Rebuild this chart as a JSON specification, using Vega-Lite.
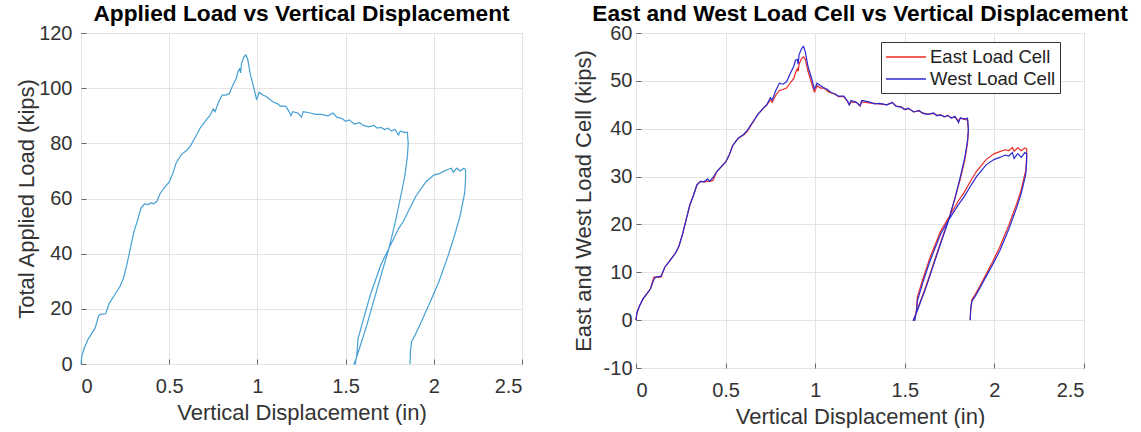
{
  "$schema": "https://vega.github.io/schema/vega-lite/v6.json",
  "background": "white",
  "padding": {"left": 15, "top": 2, "right": 0, "bottom": 0},
  "bounds": "flush",
  "spacing": 114,
  "datasets": {
    "total": [
      {"step": 1, "disp": 0, "load": 0}, {"step": 2, "disp": 0.005, "load": 3}, {"step": 3, "disp": 0.02, "load": 6},
      {"step": 4, "disp": 0.04, "load": 9}, {"step": 5, "disp": 0.06, "load": 11}, {"step": 6, "disp": 0.08, "load": 13},
      {"step": 7, "disp": 0.1, "load": 17.5}, {"step": 8, "disp": 0.11, "load": 18}, {"step": 9, "disp": 0.14, "load": 18.2},
      {"step": 10, "disp": 0.16, "load": 22}, {"step": 11, "disp": 0.19, "load": 25}, {"step": 12, "disp": 0.22, "load": 28},
      {"step": 13, "disp": 0.24, "load": 31}, {"step": 14, "disp": 0.26, "load": 36}, {"step": 15, "disp": 0.28, "load": 42},
      {"step": 16, "disp": 0.3, "load": 48}, {"step": 17, "disp": 0.32, "load": 52}, {"step": 18, "disp": 0.34, "load": 56.5},
      {"step": 19, "disp": 0.36, "load": 58}, {"step": 20, "disp": 0.38, "load": 57.8}, {"step": 21, "disp": 0.4, "load": 58.5},
      {"step": 22, "disp": 0.41, "load": 58}, {"step": 23, "disp": 0.43, "load": 59}, {"step": 24, "disp": 0.45, "load": 62},
      {"step": 25, "disp": 0.48, "load": 64.5}, {"step": 26, "disp": 0.5, "load": 66}, {"step": 27, "disp": 0.52, "load": 69},
      {"step": 28, "disp": 0.54, "load": 73}, {"step": 29, "disp": 0.57, "load": 76}, {"step": 30, "disp": 0.6, "load": 77.5},
      {"step": 31, "disp": 0.62, "load": 79}, {"step": 32, "disp": 0.65, "load": 82.5}, {"step": 33, "disp": 0.68, "load": 86},
      {"step": 34, "disp": 0.71, "load": 88.5}, {"step": 35, "disp": 0.73, "load": 90}, {"step": 36, "disp": 0.75, "load": 92.5},
      {"step": 37, "disp": 0.76, "load": 91.5}, {"step": 38, "disp": 0.78, "load": 95}, {"step": 39, "disp": 0.8, "load": 97.5},
      {"step": 40, "disp": 0.82, "load": 97.5}, {"step": 41, "disp": 0.84, "load": 98}, {"step": 42, "disp": 0.86, "load": 101},
      {"step": 43, "disp": 0.88, "load": 103.5}, {"step": 44, "disp": 0.89, "load": 106}, {"step": 45, "disp": 0.9, "load": 107},
      {"step": 46, "disp": 0.905, "load": 105.5}, {"step": 47, "disp": 0.91, "load": 109}, {"step": 48, "disp": 0.925, "load": 111.5},
      {"step": 49, "disp": 0.935, "load": 112}, {"step": 50, "disp": 0.945, "load": 110.5}, {"step": 51, "disp": 0.96, "load": 105},
      {"step": 52, "disp": 0.98, "load": 100}, {"step": 53, "disp": 0.995, "load": 96}, {"step": 54, "disp": 1.0, "load": 96.5},
      {"step": 55, "disp": 1.01, "load": 98.5}, {"step": 56, "disp": 1.03, "load": 97.5}, {"step": 57, "disp": 1.05, "load": 97},
      {"step": 58, "disp": 1.07, "load": 96}, {"step": 59, "disp": 1.09, "load": 95}, {"step": 60, "disp": 1.11, "load": 94.5},
      {"step": 61, "disp": 1.13, "load": 93.5}, {"step": 62, "disp": 1.16, "load": 93.5}, {"step": 63, "disp": 1.18, "load": 91.5},
      {"step": 64, "disp": 1.19, "load": 90}, {"step": 65, "disp": 1.2, "load": 91.5}, {"step": 66, "disp": 1.23, "load": 91},
      {"step": 67, "disp": 1.25, "load": 89.5}, {"step": 68, "disp": 1.26, "load": 91.5}, {"step": 69, "disp": 1.3, "load": 91},
      {"step": 70, "disp": 1.33, "load": 90.5}, {"step": 71, "disp": 1.36, "load": 90.5}, {"step": 72, "disp": 1.4, "load": 90},
      {"step": 73, "disp": 1.43, "load": 91}, {"step": 74, "disp": 1.45, "load": 89.5}, {"step": 75, "disp": 1.48, "load": 89},
      {"step": 76, "disp": 1.5, "load": 88}, {"step": 77, "disp": 1.52, "load": 88.5}, {"step": 78, "disp": 1.55, "load": 87},
      {"step": 79, "disp": 1.58, "load": 87.5}, {"step": 80, "disp": 1.6, "load": 86.5}, {"step": 81, "disp": 1.63, "load": 86},
      {"step": 82, "disp": 1.66, "load": 86.5}, {"step": 83, "disp": 1.68, "load": 85.5}, {"step": 84, "disp": 1.7, "load": 85.8},
      {"step": 85, "disp": 1.72, "load": 85}, {"step": 86, "disp": 1.74, "load": 85.5}, {"step": 87, "disp": 1.76, "load": 84.5},
      {"step": 88, "disp": 1.78, "load": 85}, {"step": 89, "disp": 1.8, "load": 83}, {"step": 90, "disp": 1.81, "load": 84.5},
      {"step": 91, "disp": 1.83, "load": 84}, {"step": 92, "disp": 1.85, "load": 84},
      {"step": 93, "disp": 1.855, "load": 80}, {"step": 94, "disp": 1.85, "load": 75}, {"step": 95, "disp": 1.835, "load": 68},
      {"step": 96, "disp": 1.81, "load": 60}, {"step": 97, "disp": 1.78, "load": 51}, {"step": 98, "disp": 1.746, "load": 42},
      {"step": 99, "disp": 1.7, "load": 32}, {"step": 100, "disp": 1.66, "load": 23}, {"step": 101, "disp": 1.62, "load": 14},
      {"step": 102, "disp": 1.58, "load": 6}, {"step": 103, "disp": 1.56, "load": 2}, {"step": 104, "disp": 1.548, "load": 0},
      {"step": 105, "disp": 1.555, "load": 0}, {"step": 106, "disp": 1.565, "load": 4}, {"step": 107, "disp": 1.57, "load": 9},
      {"step": 108, "disp": 1.6, "load": 16}, {"step": 109, "disp": 1.64, "load": 25}, {"step": 110, "disp": 1.7, "load": 36},
      {"step": 111, "disp": 1.746, "load": 42}, {"step": 112, "disp": 1.8, "load": 49}, {"step": 113, "disp": 1.83, "load": 52},
      {"step": 114, "disp": 1.86, "load": 56}, {"step": 115, "disp": 1.9, "load": 61}, {"step": 116, "disp": 1.955, "load": 66},
      {"step": 117, "disp": 2.0, "load": 68.5}, {"step": 118, "disp": 2.03, "load": 69}, {"step": 119, "disp": 2.06, "load": 70},
      {"step": 120, "disp": 2.08, "load": 70.5}, {"step": 121, "disp": 2.1, "load": 71}, {"step": 122, "disp": 2.11, "load": 69.5},
      {"step": 123, "disp": 2.13, "load": 71}, {"step": 124, "disp": 2.15, "load": 70}, {"step": 125, "disp": 2.17, "load": 71},
      {"step": 126, "disp": 2.18, "load": 70.5}, {"step": 127, "disp": 2.18, "load": 67}, {"step": 128, "disp": 2.175, "load": 62},
      {"step": 129, "disp": 2.15, "load": 54}, {"step": 130, "disp": 2.124, "load": 48}, {"step": 131, "disp": 2.08, "load": 39},
      {"step": 132, "disp": 2.03, "load": 30}, {"step": 133, "disp": 1.99, "load": 24}, {"step": 134, "disp": 1.955, "load": 19},
      {"step": 135, "disp": 1.92, "load": 14}, {"step": 136, "disp": 1.89, "load": 10}, {"step": 137, "disp": 1.875, "load": 8.3},
      {"step": 138, "disp": 1.868, "load": 5}, {"step": 139, "disp": 1.865, "load": 0}
    ],
    "cells": [
      {"cell": "East Load Cell", "step": 1, "disp": 0, "load": 0}, {"cell": "East Load Cell", "step": 2, "disp": 0.005, "load": 1.5},
      {"cell": "East Load Cell", "step": 3, "disp": 0.02, "load": 3}, {"cell": "East Load Cell", "step": 4, "disp": 0.04, "load": 4.5},
      {"cell": "East Load Cell", "step": 5, "disp": 0.06, "load": 5.5}, {"cell": "East Load Cell", "step": 6, "disp": 0.08, "load": 6.5},
      {"cell": "East Load Cell", "step": 7, "disp": 0.1, "load": 9}, {"cell": "East Load Cell", "step": 8, "disp": 0.11, "load": 9},
      {"cell": "East Load Cell", "step": 9, "disp": 0.14, "load": 9}, {"cell": "East Load Cell", "step": 10, "disp": 0.16, "load": 11},
      {"cell": "East Load Cell", "step": 11, "disp": 0.19, "load": 12.5}, {"cell": "East Load Cell", "step": 12, "disp": 0.22, "load": 14},
      {"cell": "East Load Cell", "step": 13, "disp": 0.24, "load": 15.5}, {"cell": "East Load Cell", "step": 14, "disp": 0.26, "load": 18},
      {"cell": "East Load Cell", "step": 15, "disp": 0.28, "load": 21}, {"cell": "East Load Cell", "step": 16, "disp": 0.3, "load": 24},
      {"cell": "East Load Cell", "step": 17, "disp": 0.32, "load": 26}, {"cell": "East Load Cell", "step": 18, "disp": 0.34, "load": 28.2},
      {"cell": "East Load Cell", "step": 19, "disp": 0.36, "load": 29}, {"cell": "East Load Cell", "step": 20, "disp": 0.38, "load": 28.9},
      {"cell": "East Load Cell", "step": 21, "disp": 0.4, "load": 29}, {"cell": "East Load Cell", "step": 22, "disp": 0.41, "load": 29},
      {"cell": "East Load Cell", "step": 23, "disp": 0.43, "load": 29.2}, {"cell": "East Load Cell", "step": 24, "disp": 0.45, "load": 31},
      {"cell": "East Load Cell", "step": 25, "disp": 0.48, "load": 32.2}, {"cell": "East Load Cell", "step": 26, "disp": 0.5, "load": 33},
      {"cell": "East Load Cell", "step": 27, "disp": 0.52, "load": 34.5}, {"cell": "East Load Cell", "step": 28, "disp": 0.54, "load": 36.5},
      {"cell": "East Load Cell", "step": 29, "disp": 0.57, "load": 38}, {"cell": "East Load Cell", "step": 30, "disp": 0.6, "load": 38.7},
      {"cell": "East Load Cell", "step": 31, "disp": 0.62, "load": 39.4}, {"cell": "East Load Cell", "step": 32, "disp": 0.65, "load": 41.2},
      {"cell": "East Load Cell", "step": 33, "disp": 0.68, "load": 43}, {"cell": "East Load Cell", "step": 34, "disp": 0.71, "load": 44.2},
      {"cell": "East Load Cell", "step": 35, "disp": 0.73, "load": 45}, {"cell": "East Load Cell", "step": 36, "disp": 0.75, "load": 46},
      {"cell": "East Load Cell", "step": 37, "disp": 0.76, "load": 45.5}, {"cell": "East Load Cell", "step": 38, "disp": 0.78, "load": 47},
      {"cell": "East Load Cell", "step": 39, "disp": 0.8, "load": 48}, {"cell": "East Load Cell", "step": 40, "disp": 0.82, "load": 48.2},
      {"cell": "East Load Cell", "step": 41, "disp": 0.84, "load": 48.5}, {"cell": "East Load Cell", "step": 42, "disp": 0.86, "load": 49.5},
      {"cell": "East Load Cell", "step": 43, "disp": 0.88, "load": 50.5}, {"cell": "East Load Cell", "step": 44, "disp": 0.89, "load": 51.7},
      {"cell": "East Load Cell", "step": 45, "disp": 0.9, "load": 52.5}, {"cell": "East Load Cell", "step": 46, "disp": 0.905, "load": 52},
      {"cell": "East Load Cell", "step": 47, "disp": 0.91, "load": 53.5}, {"cell": "East Load Cell", "step": 48, "disp": 0.925, "load": 54.7},
      {"cell": "East Load Cell", "step": 49, "disp": 0.935, "load": 55}, {"cell": "East Load Cell", "step": 50, "disp": 0.945, "load": 54.5},
      {"cell": "East Load Cell", "step": 51, "disp": 0.96, "load": 52}, {"cell": "East Load Cell", "step": 52, "disp": 0.98, "load": 49.5},
      {"cell": "East Load Cell", "step": 53, "disp": 0.995, "load": 47.7}, {"cell": "East Load Cell", "step": 54, "disp": 1.0, "load": 47.9},
      {"cell": "East Load Cell", "step": 55, "disp": 1.01, "load": 49}, {"cell": "East Load Cell", "step": 56, "disp": 1.03, "load": 48.5},
      {"cell": "East Load Cell", "step": 57, "disp": 1.05, "load": 48.5}, {"cell": "East Load Cell", "step": 58, "disp": 1.07, "load": 47.8},
      {"cell": "East Load Cell", "step": 59, "disp": 1.09, "load": 47.5}, {"cell": "East Load Cell", "step": 60, "disp": 1.11, "load": 47.2},
      {"cell": "East Load Cell", "step": 61, "disp": 1.13, "load": 46.7}, {"cell": "East Load Cell", "step": 62, "disp": 1.16, "load": 46.7},
      {"cell": "East Load Cell", "step": 63, "disp": 1.18, "load": 45.7}, {"cell": "East Load Cell", "step": 64, "disp": 1.19, "load": 45},
      {"cell": "East Load Cell", "step": 65, "disp": 1.2, "load": 45.6}, {"cell": "East Load Cell", "step": 66, "disp": 1.23, "load": 45.5},
      {"cell": "East Load Cell", "step": 67, "disp": 1.25, "load": 44.7}, {"cell": "East Load Cell", "step": 68, "disp": 1.26, "load": 45.6},
      {"cell": "East Load Cell", "step": 69, "disp": 1.3, "load": 45.4}, {"cell": "East Load Cell", "step": 70, "disp": 1.33, "load": 45.3},
      {"cell": "East Load Cell", "step": 71, "disp": 1.36, "load": 45.2}, {"cell": "East Load Cell", "step": 72, "disp": 1.4, "load": 45},
      {"cell": "East Load Cell", "step": 73, "disp": 1.43, "load": 45.5}, {"cell": "East Load Cell", "step": 74, "disp": 1.45, "load": 44.8},
      {"cell": "East Load Cell", "step": 75, "disp": 1.48, "load": 44.5}, {"cell": "East Load Cell", "step": 76, "disp": 1.5, "load": 44},
      {"cell": "East Load Cell", "step": 77, "disp": 1.52, "load": 44.2}, {"cell": "East Load Cell", "step": 78, "disp": 1.55, "load": 43.5},
      {"cell": "East Load Cell", "step": 79, "disp": 1.58, "load": 43.7}, {"cell": "East Load Cell", "step": 80, "disp": 1.6, "load": 43.3},
      {"cell": "East Load Cell", "step": 81, "disp": 1.63, "load": 43}, {"cell": "East Load Cell", "step": 82, "disp": 1.66, "load": 43.2},
      {"cell": "East Load Cell", "step": 83, "disp": 1.68, "load": 42.8}, {"cell": "East Load Cell", "step": 84, "disp": 1.7, "load": 42.9},
      {"cell": "East Load Cell", "step": 85, "disp": 1.72, "load": 42.5}, {"cell": "East Load Cell", "step": 86, "disp": 1.74, "load": 42.7},
      {"cell": "East Load Cell", "step": 87, "disp": 1.76, "load": 42.3}, {"cell": "East Load Cell", "step": 88, "disp": 1.78, "load": 42.4},
      {"cell": "East Load Cell", "step": 89, "disp": 1.8, "load": 41.7}, {"cell": "East Load Cell", "step": 90, "disp": 1.81, "load": 42.2},
      {"cell": "East Load Cell", "step": 91, "disp": 1.83, "load": 42}, {"cell": "East Load Cell", "step": 92, "disp": 1.85, "load": 41.8},
      {"cell": "East Load Cell", "step": 93, "disp": 1.855, "load": 39.5}, {"cell": "East Load Cell", "step": 94, "disp": 1.85, "load": 37},
      {"cell": "East Load Cell", "step": 95, "disp": 1.835, "load": 33.5}, {"cell": "East Load Cell", "step": 96, "disp": 1.81, "load": 29.5},
      {"cell": "East Load Cell", "step": 97, "disp": 1.78, "load": 25.5}, {"cell": "East Load Cell", "step": 98, "disp": 1.746, "load": 21.2},
      {"cell": "East Load Cell", "step": 99, "disp": 1.7, "load": 16.3}, {"cell": "East Load Cell", "step": 100, "disp": 1.66, "load": 11.8},
      {"cell": "East Load Cell", "step": 101, "disp": 1.62, "load": 7.3}, {"cell": "East Load Cell", "step": 102, "disp": 1.58, "load": 3.2},
      {"cell": "East Load Cell", "step": 103, "disp": 1.56, "load": 1.2}, {"cell": "East Load Cell", "step": 104, "disp": 1.548, "load": 0},
      {"cell": "East Load Cell", "step": 105, "disp": 1.555, "load": 0}, {"cell": "East Load Cell", "step": 106, "disp": 1.565, "load": 2.2},
      {"cell": "East Load Cell", "step": 107, "disp": 1.57, "load": 4.8}, {"cell": "East Load Cell", "step": 108, "disp": 1.6, "load": 8.5},
      {"cell": "East Load Cell", "step": 109, "disp": 1.64, "load": 13}, {"cell": "East Load Cell", "step": 110, "disp": 1.7, "load": 18.6},
      {"cell": "East Load Cell", "step": 111, "disp": 1.746, "load": 21.5}, {"cell": "East Load Cell", "step": 112, "disp": 1.8, "load": 25},
      {"cell": "East Load Cell", "step": 113, "disp": 1.83, "load": 26.6}, {"cell": "East Load Cell", "step": 114, "disp": 1.86, "load": 28.6},
      {"cell": "East Load Cell", "step": 115, "disp": 1.9, "load": 31.1}, {"cell": "East Load Cell", "step": 116, "disp": 1.955, "load": 33.6},
      {"cell": "East Load Cell", "step": 117, "disp": 2.0, "load": 34.8}, {"cell": "East Load Cell", "step": 118, "disp": 2.03, "load": 35.2},
      {"cell": "East Load Cell", "step": 119, "disp": 2.06, "load": 35.6}, {"cell": "East Load Cell", "step": 120, "disp": 2.08, "load": 35.4},
      {"cell": "East Load Cell", "step": 121, "disp": 2.1, "load": 36.1}, {"cell": "East Load Cell", "step": 122, "disp": 2.11, "load": 35.3},
      {"cell": "East Load Cell", "step": 123, "disp": 2.13, "load": 36}, {"cell": "East Load Cell", "step": 124, "disp": 2.15, "load": 35.4},
      {"cell": "East Load Cell", "step": 125, "disp": 2.17, "load": 36}, {"cell": "East Load Cell", "step": 126, "disp": 2.18, "load": 35.8},
      {"cell": "East Load Cell", "step": 127, "disp": 2.18, "load": 34}, {"cell": "East Load Cell", "step": 128, "disp": 2.175, "load": 31.3},
      {"cell": "East Load Cell", "step": 129, "disp": 2.15, "load": 27.3}, {"cell": "East Load Cell", "step": 130, "disp": 2.124, "load": 24.3},
      {"cell": "East Load Cell", "step": 131, "disp": 2.08, "load": 19.8}, {"cell": "East Load Cell", "step": 132, "disp": 2.03, "load": 15.3},
      {"cell": "East Load Cell", "step": 133, "disp": 1.99, "load": 12.2}, {"cell": "East Load Cell", "step": 134, "disp": 1.955, "load": 9.7},
      {"cell": "East Load Cell", "step": 135, "disp": 1.92, "load": 7.2}, {"cell": "East Load Cell", "step": 136, "disp": 1.89, "load": 5.2},
      {"cell": "East Load Cell", "step": 137, "disp": 1.875, "load": 4.3}, {"cell": "East Load Cell", "step": 138, "disp": 1.868, "load": 2.6},
      {"cell": "East Load Cell", "step": 139, "disp": 1.865, "load": 0},

      {"cell": "West Load Cell", "step": 1, "disp": 0, "load": 0}, {"cell": "West Load Cell", "step": 2, "disp": 0.005, "load": 1.5},
      {"cell": "West Load Cell", "step": 3, "disp": 0.02, "load": 3}, {"cell": "West Load Cell", "step": 4, "disp": 0.04, "load": 4.5},
      {"cell": "West Load Cell", "step": 5, "disp": 0.06, "load": 5.5}, {"cell": "West Load Cell", "step": 6, "disp": 0.08, "load": 6.5},
      {"cell": "West Load Cell", "step": 7, "disp": 0.1, "load": 8.5}, {"cell": "West Load Cell", "step": 8, "disp": 0.11, "load": 9},
      {"cell": "West Load Cell", "step": 9, "disp": 0.14, "load": 9.2}, {"cell": "West Load Cell", "step": 10, "disp": 0.16, "load": 11},
      {"cell": "West Load Cell", "step": 11, "disp": 0.19, "load": 12.5}, {"cell": "West Load Cell", "step": 12, "disp": 0.22, "load": 14},
      {"cell": "West Load Cell", "step": 13, "disp": 0.24, "load": 15.5}, {"cell": "West Load Cell", "step": 14, "disp": 0.26, "load": 18},
      {"cell": "West Load Cell", "step": 15, "disp": 0.28, "load": 21}, {"cell": "West Load Cell", "step": 16, "disp": 0.3, "load": 24},
      {"cell": "West Load Cell", "step": 17, "disp": 0.32, "load": 26}, {"cell": "West Load Cell", "step": 18, "disp": 0.34, "load": 28.3},
      {"cell": "West Load Cell", "step": 19, "disp": 0.36, "load": 29}, {"cell": "West Load Cell", "step": 20, "disp": 0.38, "load": 28.9},
      {"cell": "West Load Cell", "step": 21, "disp": 0.4, "load": 29.5}, {"cell": "West Load Cell", "step": 22, "disp": 0.41, "load": 29},
      {"cell": "West Load Cell", "step": 23, "disp": 0.43, "load": 29.8}, {"cell": "West Load Cell", "step": 24, "disp": 0.45, "load": 31},
      {"cell": "West Load Cell", "step": 25, "disp": 0.48, "load": 32.3}, {"cell": "West Load Cell", "step": 26, "disp": 0.5, "load": 33},
      {"cell": "West Load Cell", "step": 27, "disp": 0.52, "load": 34.5}, {"cell": "West Load Cell", "step": 28, "disp": 0.54, "load": 36.5},
      {"cell": "West Load Cell", "step": 29, "disp": 0.57, "load": 38}, {"cell": "West Load Cell", "step": 30, "disp": 0.6, "load": 38.8},
      {"cell": "West Load Cell", "step": 31, "disp": 0.62, "load": 39.6}, {"cell": "West Load Cell", "step": 32, "disp": 0.65, "load": 41.3},
      {"cell": "West Load Cell", "step": 33, "disp": 0.68, "load": 43}, {"cell": "West Load Cell", "step": 34, "disp": 0.71, "load": 44.3},
      {"cell": "West Load Cell", "step": 35, "disp": 0.73, "load": 45}, {"cell": "West Load Cell", "step": 36, "disp": 0.75, "load": 46.5},
      {"cell": "West Load Cell", "step": 37, "disp": 0.76, "load": 46}, {"cell": "West Load Cell", "step": 38, "disp": 0.78, "load": 48},
      {"cell": "West Load Cell", "step": 39, "disp": 0.8, "load": 49.5}, {"cell": "West Load Cell", "step": 40, "disp": 0.82, "load": 49.3},
      {"cell": "West Load Cell", "step": 41, "disp": 0.84, "load": 49.8}, {"cell": "West Load Cell", "step": 42, "disp": 0.86, "load": 51.5},
      {"cell": "West Load Cell", "step": 43, "disp": 0.88, "load": 53}, {"cell": "West Load Cell", "step": 44, "disp": 0.89, "load": 54.3},
      {"cell": "West Load Cell", "step": 45, "disp": 0.9, "load": 54.5}, {"cell": "West Load Cell", "step": 46, "disp": 0.905, "load": 53.5},
      {"cell": "West Load Cell", "step": 47, "disp": 0.91, "load": 55.5}, {"cell": "West Load Cell", "step": 48, "disp": 0.925, "load": 56.8},
      {"cell": "West Load Cell", "step": 49, "disp": 0.935, "load": 57.2}, {"cell": "West Load Cell", "step": 50, "disp": 0.945, "load": 56},
      {"cell": "West Load Cell", "step": 51, "disp": 0.96, "load": 53}, {"cell": "West Load Cell", "step": 52, "disp": 0.98, "load": 50.5},
      {"cell": "West Load Cell", "step": 53, "disp": 0.995, "load": 48.3}, {"cell": "West Load Cell", "step": 54, "disp": 1.0, "load": 48.6},
      {"cell": "West Load Cell", "step": 55, "disp": 1.01, "load": 49.5}, {"cell": "West Load Cell", "step": 56, "disp": 1.03, "load": 49},
      {"cell": "West Load Cell", "step": 57, "disp": 1.05, "load": 48.5}, {"cell": "West Load Cell", "step": 58, "disp": 1.07, "load": 48.2},
      {"cell": "West Load Cell", "step": 59, "disp": 1.09, "load": 47.5}, {"cell": "West Load Cell", "step": 60, "disp": 1.11, "load": 47.3},
      {"cell": "West Load Cell", "step": 61, "disp": 1.13, "load": 46.8}, {"cell": "West Load Cell", "step": 62, "disp": 1.16, "load": 46.8},
      {"cell": "West Load Cell", "step": 63, "disp": 1.18, "load": 45.8}, {"cell": "West Load Cell", "step": 64, "disp": 1.19, "load": 45},
      {"cell": "West Load Cell", "step": 65, "disp": 1.2, "load": 45.9}, {"cell": "West Load Cell", "step": 66, "disp": 1.23, "load": 45.5},
      {"cell": "West Load Cell", "step": 67, "disp": 1.25, "load": 44.8}, {"cell": "West Load Cell", "step": 68, "disp": 1.26, "load": 45.9},
      {"cell": "West Load Cell", "step": 69, "disp": 1.3, "load": 45.6}, {"cell": "West Load Cell", "step": 70, "disp": 1.33, "load": 45.2},
      {"cell": "West Load Cell", "step": 71, "disp": 1.36, "load": 45.3}, {"cell": "West Load Cell", "step": 72, "disp": 1.4, "load": 45},
      {"cell": "West Load Cell", "step": 73, "disp": 1.43, "load": 45.5}, {"cell": "West Load Cell", "step": 74, "disp": 1.45, "load": 44.7},
      {"cell": "West Load Cell", "step": 75, "disp": 1.48, "load": 44.5}, {"cell": "West Load Cell", "step": 76, "disp": 1.5, "load": 44},
      {"cell": "West Load Cell", "step": 77, "disp": 1.52, "load": 44.3}, {"cell": "West Load Cell", "step": 78, "disp": 1.55, "load": 43.5},
      {"cell": "West Load Cell", "step": 79, "disp": 1.58, "load": 43.8}, {"cell": "West Load Cell", "step": 80, "disp": 1.6, "load": 43.2},
      {"cell": "West Load Cell", "step": 81, "disp": 1.63, "load": 43}, {"cell": "West Load Cell", "step": 82, "disp": 1.66, "load": 43.3},
      {"cell": "West Load Cell", "step": 83, "disp": 1.68, "load": 42.7}, {"cell": "West Load Cell", "step": 84, "disp": 1.7, "load": 42.9},
      {"cell": "West Load Cell", "step": 85, "disp": 1.72, "load": 42.5}, {"cell": "West Load Cell", "step": 86, "disp": 1.74, "load": 42.8},
      {"cell": "West Load Cell", "step": 87, "disp": 1.76, "load": 42.2}, {"cell": "West Load Cell", "step": 88, "disp": 1.78, "load": 42.6},
      {"cell": "West Load Cell", "step": 89, "disp": 1.8, "load": 41.3}, {"cell": "West Load Cell", "step": 90, "disp": 1.81, "load": 42.3},
      {"cell": "West Load Cell", "step": 91, "disp": 1.83, "load": 42}, {"cell": "West Load Cell", "step": 92, "disp": 1.85, "load": 42.2},
      {"cell": "West Load Cell", "step": 93, "disp": 1.855, "load": 40}, {"cell": "West Load Cell", "step": 94, "disp": 1.85, "load": 37.5},
      {"cell": "West Load Cell", "step": 95, "disp": 1.835, "load": 34}, {"cell": "West Load Cell", "step": 96, "disp": 1.81, "load": 30},
      {"cell": "West Load Cell", "step": 97, "disp": 1.78, "load": 25.5}, {"cell": "West Load Cell", "step": 98, "disp": 1.746, "load": 21},
      {"cell": "West Load Cell", "step": 99, "disp": 1.7, "load": 16}, {"cell": "West Load Cell", "step": 100, "disp": 1.66, "load": 11.5},
      {"cell": "West Load Cell", "step": 101, "disp": 1.62, "load": 7}, {"cell": "West Load Cell", "step": 102, "disp": 1.58, "load": 3},
      {"cell": "West Load Cell", "step": 103, "disp": 1.56, "load": 1}, {"cell": "West Load Cell", "step": 104, "disp": 1.548, "load": 0},
      {"cell": "West Load Cell", "step": 105, "disp": 1.555, "load": 0}, {"cell": "West Load Cell", "step": 106, "disp": 1.565, "load": 1.6},
      {"cell": "West Load Cell", "step": 107, "disp": 1.57, "load": 4}, {"cell": "West Load Cell", "step": 108, "disp": 1.6, "load": 7.8},
      {"cell": "West Load Cell", "step": 109, "disp": 1.64, "load": 12.3}, {"cell": "West Load Cell", "step": 110, "disp": 1.7, "load": 18},
      {"cell": "West Load Cell", "step": 111, "disp": 1.746, "load": 21}, {"cell": "West Load Cell", "step": 112, "disp": 1.8, "load": 24.2},
      {"cell": "West Load Cell", "step": 113, "disp": 1.83, "load": 25.7}, {"cell": "West Load Cell", "step": 114, "disp": 1.86, "load": 27.6},
      {"cell": "West Load Cell", "step": 115, "disp": 1.9, "load": 30}, {"cell": "West Load Cell", "step": 116, "disp": 1.955, "load": 32.5},
      {"cell": "West Load Cell", "step": 117, "disp": 2.0, "load": 33.6}, {"cell": "West Load Cell", "step": 118, "disp": 2.03, "load": 34},
      {"cell": "West Load Cell", "step": 119, "disp": 2.06, "load": 34.5}, {"cell": "West Load Cell", "step": 120, "disp": 2.08, "load": 34.3},
      {"cell": "West Load Cell", "step": 121, "disp": 2.1, "load": 35}, {"cell": "West Load Cell", "step": 122, "disp": 2.11, "load": 33.8},
      {"cell": "West Load Cell", "step": 123, "disp": 2.13, "load": 34.8}, {"cell": "West Load Cell", "step": 124, "disp": 2.15, "load": 34},
      {"cell": "West Load Cell", "step": 125, "disp": 2.17, "load": 35}, {"cell": "West Load Cell", "step": 126, "disp": 2.18, "load": 34.8},
      {"cell": "West Load Cell", "step": 127, "disp": 2.18, "load": 33}, {"cell": "West Load Cell", "step": 128, "disp": 2.175, "load": 30.5},
      {"cell": "West Load Cell", "step": 129, "disp": 2.15, "load": 26.5}, {"cell": "West Load Cell", "step": 130, "disp": 2.124, "load": 23.5},
      {"cell": "West Load Cell", "step": 131, "disp": 2.08, "load": 19}, {"cell": "West Load Cell", "step": 132, "disp": 2.03, "load": 14.5},
      {"cell": "West Load Cell", "step": 133, "disp": 1.99, "load": 11.6}, {"cell": "West Load Cell", "step": 134, "disp": 1.955, "load": 9.2},
      {"cell": "West Load Cell", "step": 135, "disp": 1.92, "load": 6.8}, {"cell": "West Load Cell", "step": 136, "disp": 1.89, "load": 4.8},
      {"cell": "West Load Cell", "step": 137, "disp": 1.875, "load": 4}, {"cell": "West Load Cell", "step": 138, "disp": 1.868, "load": 2.4},
      {"cell": "West Load Cell", "step": 139, "disp": 1.865, "load": 0}
    ]
  },
  "hconcat": [
    {
      "title": "Applied Load vs Vertical Displacement",
      "width": 441,
      "height": 331,
      "data": {"name": "total"},
      "mark": {"type": "line", "color": "#46a0d4", "strokeWidth": 1.2},
      "encoding": {
        "x": {
          "field": "disp", "type": "quantitative",
          "scale": {"domain": [0, 2.5], "nice": false},
          "axis": {"title": "Vertical Displacement (in)", "values": [0, 0.5, 1, 1.5, 2, 2.5], "format": "~g"}
        },
        "y": {
          "field": "load", "type": "quantitative",
          "scale": {"domain": [0, 120], "nice": false},
          "axis": {"title": "Total Applied Load (kips)", "values": [0, 20, 40, 60, 80, 100, 120], "labelExpr": "datum.value", "labelPadding": 14, "titlePadding": 0}
        },
        "order": {"field": "step", "type": "quantitative"}
      }
    },
    {
      "title": "East and West Load Cell vs Vertical Displacement",
      "width": 448,
      "height": 335,
      "data": {"name": "cells"},
      "mark": {"type": "line", "strokeWidth": 1.2},
      "encoding": {
        "x": {
          "field": "disp", "type": "quantitative",
          "scale": {"domain": [0, 2.5], "nice": false},
          "axis": {"title": "Vertical Displacement (in)", "values": [0, 0.5, 1, 1.5, 2, 2.5], "format": "~g"}
        },
        "y": {
          "field": "load", "type": "quantitative",
          "scale": {"domain": [-10, 60], "nice": false},
          "axis": {"title": "East and West Load Cell (kips)", "values": [-10, 0, 10, 20, 30, 40, 50, 60], "labelExpr": "datum.value", "labelPadding": 9, "titlePadding": 8}
        },
        "color": {
          "field": "cell", "type": "nominal",
          "scale": {"domain": ["East Load Cell", "West Load Cell"], "range": ["#ec2a24", "#2a2ad2"]},
          "legend": {
            "title": null, "orient": "none", "legendX": 800, "legendY": 9,
            "strokeColor": "#333", "fillColor": "white", "padding": 4,
            "symbolType": "M-1,0L3,0", "symbolSize": 400, "symbolStrokeWidth": 1.5,
            "labelFontSize": 18.5, "labelColor": "#222", "labelOffset": 23, "rowPadding": 1
          }
        },
        "order": {"field": "step", "type": "quantitative"}
      }
    }
  ],
  "config": {
    "font": "Liberation Sans",
    "view": {"stroke": "#7a7a7a", "strokeWidth": 1},
    "axis": {
      "grid": true, "gridColor": "#e4e4e4", "domain": false,
      "tickSize": -5, "tickColor": "#666",
      "labelFont": "Liberation Sans", "labelFontSize": 20, "labelColor": "#333", "labelPadding": 17,
      "titleFont": "Liberation Sans", "titleFontSize": 22, "titleFontWeight": "normal", "titleColor": "#333", "titlePadding": 6
    },
    "title": {"font": "Liberation Sans", "fontSize": 22.7, "fontWeight": "bold", "color": "#000", "offset": -3}
  }
}
